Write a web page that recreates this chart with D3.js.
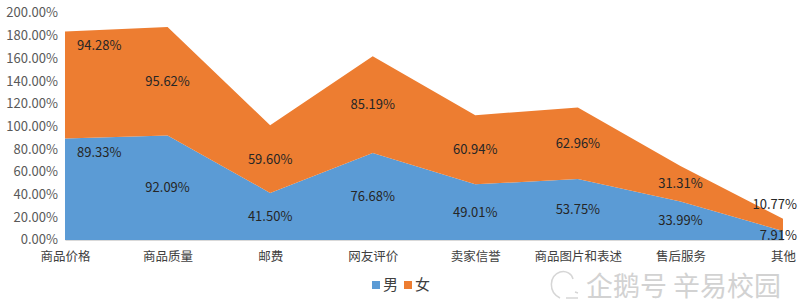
<!DOCTYPE html>
<html>
<head>
<meta charset="utf-8">
<script src="https://cdn.jsdelivr.net/npm/d3@7"></script>
<style>
  body { margin: 0; background: #fff; }
  svg { display: block; font-family: "Noto Sans CJK SC", "Noto Sans", sans-serif; }
</style>
</head>
<body>
<div id="vis-container"></div>
<script>
/* DATA */
const categories = ["商品价格", "商品质量", "邮费", "网友评价", "卖家信誉", "商品图片和表述", "售后服务", "其他"];
const male = [89.33, 92.09, 41.50, 76.68, 49.01, 53.75, 33.99, 7.91];
const female = [94.28, 95.62, 59.60, 85.19, 60.94, 62.96, 31.31, 10.77];
const seriesNames = ["男", "女"];
const colors = ["#5B9BD5", "#ED7D31"];
const yTicks = [0, 20, 40, 60, 80, 100, 120, 140, 160, 180, 200];

const width = 800, height = 307;
const margin = {top: 13, right: 17, bottom: 67, left: 65};

let rows = categories.map((c, i) => ({cat: c, "男": male[i], "女": female[i]}));
let stack = d3.stack().keys(seriesNames)(rows);

let svg = d3.select("#vis-container").append("svg")
  .attr("width", width).attr("height", height);

let x = d3.scalePoint().domain(categories).range([margin.left, width - margin.right]);
let y = d3.scaleLinear().domain([0, 200]).range([height - margin.bottom, margin.top]);

let area = d3.area()
  .x(d => x(d.data.cat))
  .y0(d => y(d[0]))
  .y1(d => y(d[1]));

svg.append("g").selectAll("path")
  .data(stack)
  .join("path")
  .attr("fill", (d, i) => colors[i])
  .attr("d", area);

// y axis labels
let yAxis = svg.append("g")
  .attr("transform", `translate(${margin.left - 7},0)`)
  .call(d3.axisLeft(y).tickValues(yTicks).tickSize(0).tickFormat(d => d.toFixed(2) + "%"));
yAxis.select(".domain").remove();
yAxis.selectAll("text")
  .attr("x", 0)
  .attr("dy", "0.3em")
  .attr("fill", "#595959")
  .style("font-size", "13px")
  .style("font-family", "'Noto Sans CJK SC', sans-serif");

// x axis
let xAxis = svg.append("g")
  .attr("transform", `translate(0,${height - margin.bottom})`)
  .call(d3.axisBottom(x).tickSize(0).tickPadding(12));
xAxis.select(".domain").attr("stroke", "#d9d9d9");
xAxis.selectAll("text")
  .attr("fill", "#404040")
  .style("font-size", "12.5px")
  .style("font-family", "'Noto Sans CJK SC', sans-serif");

// data labels
let last = categories.length - 1;
stack.forEach((s, si) => {
  let vals = si === 0 ? male : female;
  svg.append("g").selectAll("text")
    .data(s)
    .join("text")
    .attr("x", (d, i) => i === 0 ? x(d.data.cat) + 12 : i === last ? width - 3 : x(d.data.cat))
    .attr("y", (d, i) => {
      if (i === 0) return y(d[1]) + 14;
      if (i === last && si === 1) return y(d[1]) - 14;
      return y((d[0] + d[1]) / 2);
    })
    .attr("dy", "0.35em")
    .attr("text-anchor", (d, i) => i === 0 ? "start" : i === last ? "end" : "middle")
    .attr("fill", "#262626")
    .style("font-size", "13px")
    .text((d, i) => vals[i].toFixed(2) + "%");
});

// legend
let legend = svg.append("g").attr("transform", "translate(372,285)");
seriesNames.forEach((n, i) => {
  let g = legend.append("g").attr("transform", `translate(${i * 32},0)`);
  g.append("rect").attr("x", 0).attr("y", -4).attr("width", 8).attr("height", 8).attr("fill", colors[i]);
  g.append("text").attr("x", 11).attr("dy", "0.35em")
    .attr("fill", "#404040").style("font-size", "15px").text(n);
});

// watermark
let wm = svg.append("g");
wm.append("path")
  .attr("d", "M560,298 C548,292 549,276 560,272 C566,270 572,274 573,279 M566,298 L578,298 M575,292 L578,293")
  .attr("fill", "none").attr("stroke", "#d6d6d6").attr("stroke-width", 1.5);
wm.append("text")
  .attr("x", 781).attr("y", 287).attr("dy", "0.35em")
  .attr("text-anchor", "end")
  .attr("fill", "#d2d2d2")
  .style("font-size", "27px")
  .text("企鹅号 辛易校园");
</script>
</body>
</html>
